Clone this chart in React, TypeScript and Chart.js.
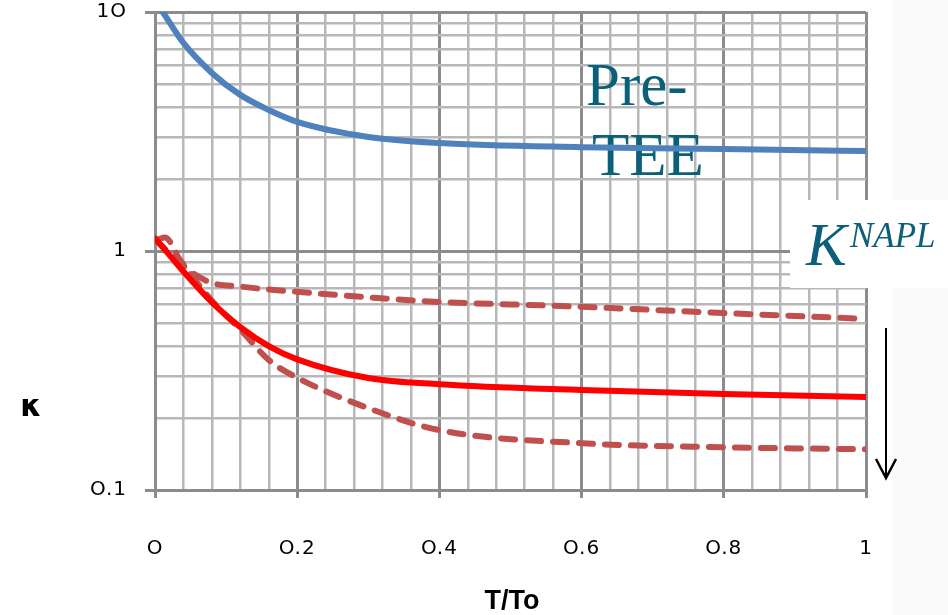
import React, { useEffect, useRef } from "react";
import { Chart, registerables } from "chart.js";

Chart.register(...registerables);

// ---- data ----
const tPre = [0.011, 0.04, 0.08, 0.12, 0.16, 0.2, 0.3, 0.4, 0.6, 0.8, 1.0];
const kPre = [10, 7.42, 5.56, 4.5, 3.89, 3.47, 3.0, 2.83, 2.72, 2.67, 2.62];

const tMid = [0, 0.018, 0.04, 0.08, 0.12, 0.16, 0.2, 0.3, 0.4, 0.6, 0.8, 1.0];
const kMid = [1.13, 0.98, 0.82, 0.61, 0.48, 0.4, 0.352, 0.294, 0.277, 0.262, 0.252, 0.245];

const tUpper = [0, 0.03, 0.05, 0.08, 0.12, 0.16, 0.2, 0.3, 0.4, 0.57, 0.8, 1.0];
const kUpper = [1.12, 0.92, 0.82, 0.735, 0.71, 0.69, 0.675, 0.64, 0.612, 0.589, 0.55, 0.52];

const tLower = [0.005, 0.014, 0.035, 0.08, 0.12, 0.16, 0.2, 0.3, 0.4, 0.6, 0.8, 1.0];
const kLower = [1.12, 1.14, 0.92, 0.62, 0.47, 0.35, 0.295, 0.22, 0.178, 0.157, 0.151, 0.148];

const yGridValues = [
  0.1, 0.2, 0.3, 0.4, 0.5, 0.6, 0.7, 0.8, 0.9,
  1, 2, 3, 4, 5, 6, 7, 8, 9, 10,
];
const yLabels: Record<string, string> = { "0.1": "O.1", "1": "1", "10": "1O" };
const xLabels: Record<string, string> = {
  "0": "O", "0.2": "O.2", "0.4": "O.4", "0.6": "O.6", "0.8": "O.8", "1": "1",
};

const xTitle = "T/To";
const yTitle = "κ";
const preLabel1 = "Pre-";
const preLabel2 = "TEE";
const kLabel = "K";
const kSup = "NAPL";

const pts = (xs: number[], ys: number[]) => xs.map((x, i) => ({ x, y: ys[i] }));

const isDecade = (v: number) => Math.abs(Math.log10(v) - Math.round(Math.log10(v))) < 1e-6;
const isMajorX = (v: number) => Math.abs(v * 5 - Math.round(v * 5)) < 1e-6;

const MINOR = "#B8B8B8";
const MAJOR = "#8C8C8C";
const TEAL = "#0B6079";
const TICK_FONT = "'DejaVu Sans', Verdana, sans-serif";

const decorPlugin = {
  id: "decor",
  beforeDraw(chart: any) {
    const ctx = chart.ctx;
    ctx.save();
    ctx.fillStyle = "#ffffff";
    ctx.fillRect(0, 0, chart.width, chart.height);
    ctx.fillStyle = "#FAFAFA";
    ctx.fillRect(892, 0, chart.width - 892, chart.height);
    ctx.restore();
    // slight letter spacing for the tick labels (drawn next)
    ctx.letterSpacing = "1px";
  },
  beforeDatasetsDraw(chart: any) {
    const ctx = chart.ctx;
    ctx.letterSpacing = "0px";
    ctx.save();
    // white box behind K^NAPL
    ctx.fillStyle = "#ffffff";
    ctx.fillRect(790, 200, chart.width - 790, 88);
    ctx.fillStyle = TEAL;
    ctx.textAlign = "left";
    ctx.textBaseline = "alphabetic";
    ctx.font = '61px "Liberation Serif", "DejaVu Serif", serif';
    ctx.fillText(preLabel1, 586, 105);
    ctx.fillText(preLabel2, 592, 175);
    ctx.font = 'italic 61px "Liberation Serif", "DejaVu Serif", serif';
    ctx.fillText(kLabel, 806, 265);
    ctx.font = 'italic 35px "Liberation Serif", "DejaVu Serif", serif';
    ctx.fillText(kSup, 850, 247);
    ctx.restore();
  },
  afterDraw(chart: any) {
    const ctx = chart.ctx;
    ctx.save();
    ctx.letterSpacing = "0px";
    // arrow
    ctx.strokeStyle = "#000000";
    ctx.lineWidth = 2;
    ctx.beginPath();
    ctx.moveTo(886, 328);
    ctx.lineTo(886, 478);
    ctx.stroke();
    ctx.lineWidth = 2.5;
    ctx.beginPath();
    ctx.moveTo(876, 459);
    ctx.lineTo(886, 478);
    ctx.lineTo(896, 459);
    ctx.stroke();
    // axis titles
    ctx.fillStyle = "#000000";
    ctx.textAlign = "center";
    ctx.textBaseline = "middle";
    ctx.font = 'bold 27px "Liberation Sans", sans-serif';
    ctx.fillText(xTitle, 512, 602);
    ctx.font = 'bold 30px "DejaVu Sans", sans-serif';
    ctx.fillText(yTitle, 31, 408);
    ctx.restore();
  },
};

export default function App() {
  const ref = useRef<HTMLCanvasElement | null>(null);

  useEffect(() => {
    if (!ref.current) return;
    const dashed = {
      borderColor: "#C0504D",
      borderWidth: 6,
      borderDash: [14, 12],
      borderCapStyle: "round" as const,
      pointRadius: 0,
      cubicInterpolationMode: "monotone" as const,
    };
    const chart = new Chart(ref.current, {
      type: "line",
      data: {
        datasets: [
          {
            label: "Pre-TEE",
            data: pts(tPre, kPre),
            borderColor: "#4F81BD",
            borderWidth: 6,
            borderCapStyle: "round",
            pointRadius: 0,
            cubicInterpolationMode: "monotone",
          },
          {
            label: "K NAPL",
            data: pts(tMid, kMid),
            borderColor: "#FF0000",
            borderWidth: 6,
            borderCapStyle: "round",
            pointRadius: 0,
            cubicInterpolationMode: "monotone",
          },
          { label: "upper", data: pts(tUpper, kUpper), ...dashed },
          { label: "lower", data: pts(tLower, kLower), ...dashed },
        ],
      },
      options: {
        animation: false,
        responsive: false,
        maintainAspectRatio: false,
        layout: { padding: { left: 0, top: 12, right: 82, bottom: 0 } },
        plugins: { legend: { display: false }, tooltip: { enabled: false } },
        scales: {
          x: {
            type: "linear",
            min: 0,
            max: 1,
            afterFit: (s: any) => {
              s.height = 125;
              s.paddingLeft = 0;
              s.paddingRight = 0;
            },
            ticks: {
              stepSize: 0.04,
              autoSkip: false,
              maxRotation: 0,
              padding: 39,
              color: "#000",
              font: { family: TICK_FONT, size: 20 },
              callback: (v: any) => {
                const n = Number(v);
                if (!isMajorX(n)) return "";
                const key = String(Math.round(n * 5) / 5);
                return xLabels[key] ?? "";
              },
            },
            grid: {
              color: (c: any) => (isMajorX(c.tick.value) ? MAJOR : MINOR),
              lineWidth: (c: any) => (isMajorX(c.tick.value) ? 3 : 2.5),
              tickColor: (c: any) => (isMajorX(c.tick.value) ? MAJOR : "rgba(0,0,0,0)"),
              tickLength: 8,
            },
            border: { color: MAJOR, width: 3 },
          },
          y: {
            type: "logarithmic",
            min: 0.1,
            max: 10,
            afterFit: (s: any) => {
              s.width = 155;
              s.paddingTop = 0;
              s.paddingBottom = 0;
            },
            afterBuildTicks: (s: any) => {
              s.ticks = yGridValues.map((v) => ({ value: v, major: isDecade(v) }));
            },
            ticks: {
              autoSkip: false,
              padding: 18,
              color: "#000",
              font: { family: TICK_FONT, size: 20 },
              callback: (v: any) => {
                const n = Number(v);
                if (!isDecade(n)) return "";
                return yLabels[String(n)] ?? "";
              },
            },
            grid: {
              color: (c: any) => (isDecade(c.tick.value) ? MAJOR : MINOR),
              lineWidth: (c: any) => (isDecade(c.tick.value) ? 3 : 2.5),
              tickColor: (c: any) => (isDecade(c.tick.value) ? MAJOR : "rgba(0,0,0,0)"),
              tickLength: 10,
            },
            border: { color: MAJOR, width: 3 },
          },
        },
      },
      plugins: [decorPlugin],
    });
    return () => chart.destroy();
  }, []);

  return (
    <div style={{ position: "fixed", left: 0, top: 0, width: 948, height: 615 }}>
      <canvas ref={ref} width={948} height={615} style={{ width: 948, height: 615 }} />
    </div>
  );
}
